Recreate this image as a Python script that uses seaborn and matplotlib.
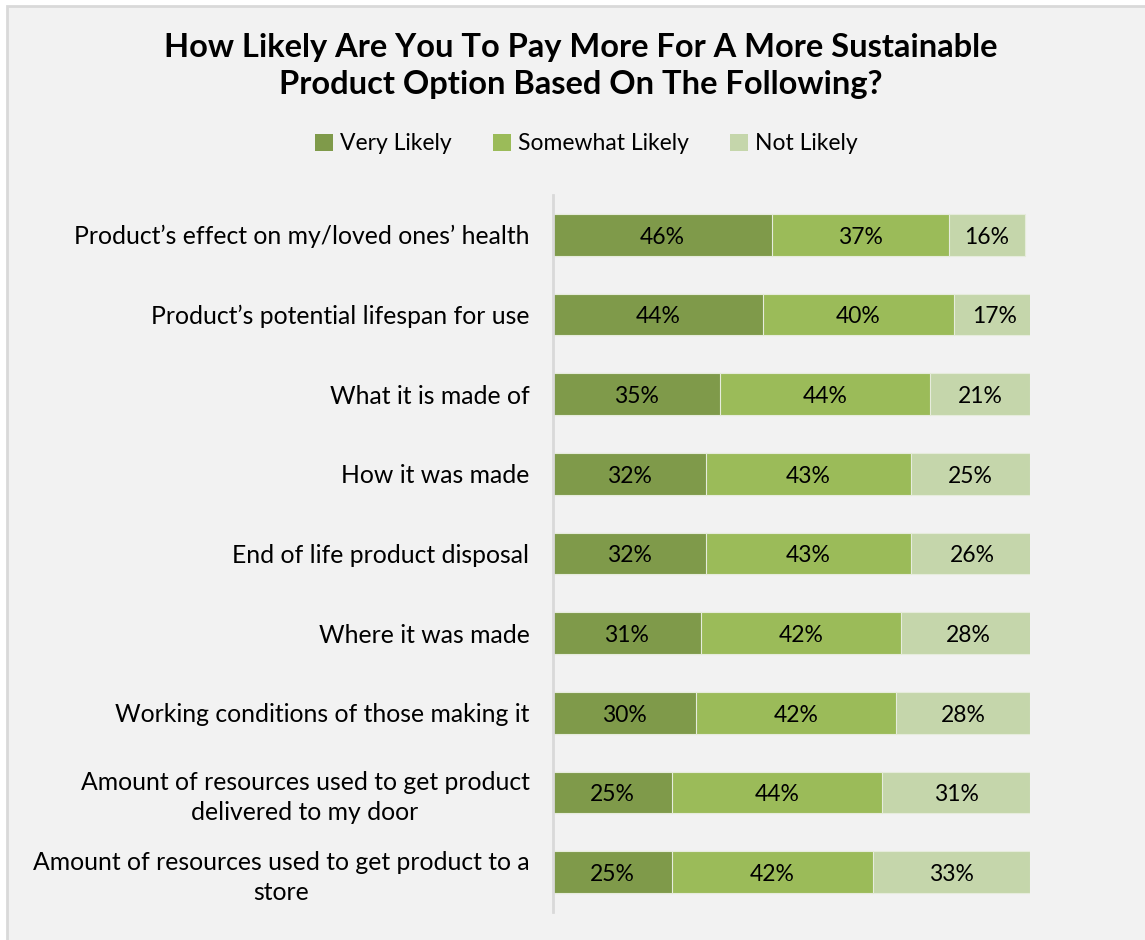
import matplotlib
matplotlib.use("Agg")
import matplotlib.pyplot as plt
import matplotlib.patches as mpatches
import seaborn as sns
import pandas as pd
import numpy as np

categories = [
    "Product\u2019s effect on my/loved ones\u2019 health",
    "Product\u2019s potential lifespan for use",
    "What it is made of",
    "How it was made",
    "End of life product disposal",
    "Where it was made",
    "Working conditions of those making it",
    "Amount of resources used to get product\ndelivered to my door",
    "Amount of resources used to get product to a\nstore",
]
very_likely = [46, 44, 35, 32, 32, 31, 30, 25, 25]
somewhat_likely = [37, 40, 44, 43, 43, 42, 42, 44, 42]
not_likely = [16, 17, 21, 25, 26, 28, 28, 31, 33]
series_names = ["Very Likely", "Somewhat Likely", "Not Likely"]
colors = ["#7F9A4A", "#9BBB59", "#C5D6AB"]

title = "How Likely Are You To Pay More For A More Sustainable\nProduct Option Based On The Following?"

sns.set_theme(style="white")
plt.rcParams["font.family"] = ["Lato", "DejaVu Sans"]

df = pd.DataFrame({
    "category": categories,
    "vl": very_likely,
    "sl": somewhat_likely,
    "nl": not_likely,
})
df["c1"] = df["vl"]
df["c2"] = df["vl"] + df["sl"]
df["c3"] = df["vl"] + df["sl"] + df["nl"]

bg = "#F2F2F2"
fig = plt.figure(figsize=(11.45, 9.4), dpi=100, facecolor="white")

# chart frame on a light gray panel
panel = mpatches.Rectangle((7 / 1145, -0.01), 1.2, 1 - 6 / 940 + 0.01,
                           transform=fig.transFigure, facecolor=bg,
                           edgecolor="#D9D9D9", linewidth=2, zorder=-10)
fig.patches.append(panel)

ax = fig.add_axes([553 / 1145, 28 / 940, 477 / 1145, 717 / 940])
ax.set_zorder(5)
ax.patch.set_visible(False)

# stacked bars: draw cumulative totals from widest to narrowest
for col, color in zip(["c3", "c2", "c1"], colors[::-1]):
    sns.barplot(data=df, x=col, y="category", orient="h", color=color,
                width=0.52, edgecolor="#E6ECDC", linewidth=0.8, ax=ax,
                saturation=1)

# value labels centred in each segment
for i, row in df.iterrows():
    starts = [0, row["vl"], row["vl"] + row["sl"]]
    vals = [row["vl"], row["sl"], row["nl"]]
    for s, v in zip(starts, vals):
        ax.text(s + v / 2, i + 0.03, f"{v}%", ha="center", va="center",
                fontsize=16.5, color="black")

ax.set_xlim(0, 100)
ax.set_ylim(8.5, -0.5)
ax.set_xlabel("")
ax.set_ylabel("")
ax.set_xticks([])
ax.tick_params(axis="y", length=0, pad=17, labelsize=17.8, labelcolor="black")
for lab in ax.get_yticklabels():
    lab.set_multialignment("center")
    lab.set_linespacing(1.35)
for side in ["top", "right", "bottom"]:
    ax.spines[side].set_visible(False)
ax.spines["left"].set_color("#D9D9D9")
ax.spines["left"].set_linewidth(2)

handles = [mpatches.Patch(facecolor=c, edgecolor="none") for c in colors]
leg = fig.legend(handles, series_names, loc="center", ncol=3,
                 bbox_to_anchor=(0.512, 1 - 144 / 940), frameon=False,
                 fontsize=16.5, handlelength=0.8, handleheight=0.8,
                 handletextpad=0.3, columnspacing=1.8)
for t in leg.get_texts():
    t.set_color("black")

fig.text(0.507, 1 - 66 / 940, title, ha="center", va="center",
         fontsize=23.5, fontweight="bold", color="black", linespacing=1.35)

fig.savefig("out.png", dpi=100, facecolor="white")
